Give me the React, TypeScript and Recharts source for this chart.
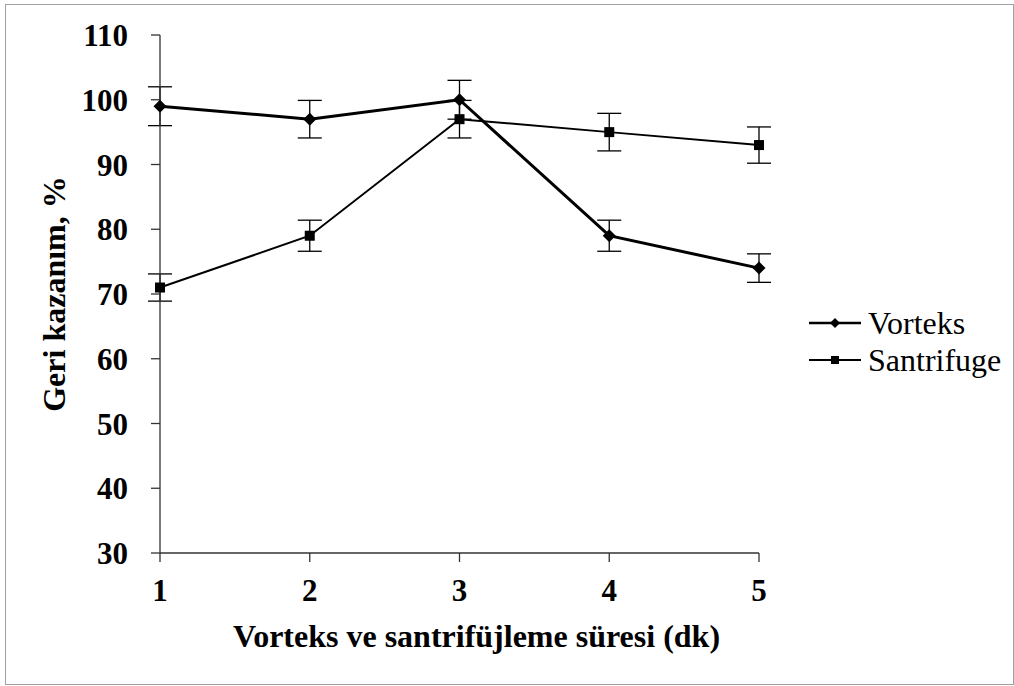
import { LineChart, Line, XAxis, YAxis, ErrorBar } from 'recharts';

const minutes = [1, 2, 3, 4, 5];
const vorteks = [99, 97, 100, 79, 74];
const vorteksErr = [3, 2.9, 3, 2.4, 2.2];
const santrifuge = [71, 79, 97, 95, 93];
const santrifugeErr = [2.1, 2.4, 2.9, 2.9, 2.8];
const yTicks = [30, 40, 50, 60, 70, 80, 90, 100, 110];

const data = minutes.map((m, i) => ({
  m,
  vorteks: vorteks[i],
  vorteksErr: vorteksErr[i],
  santrifuge: santrifuge[i],
  santrifugeErr: santrifugeErr[i],
}));

const FONT = '"Liberation Serif", "Times New Roman", serif';

const Diamond = (props: any) => {
  const { cx, cy } = props;
  if (cx == null || cy == null) return null;
  const r = 6.5;
  return <path d={`M${cx},${cy - r}L${cx + r},${cy}L${cx},${cy + r}L${cx - r},${cy}Z`} fill="#000" />;
};

const Square = (props: any) => {
  const { cx, cy } = props;
  if (cx == null || cy == null) return null;
  const r = 5;
  return <rect x={cx - r} y={cy - r} width={r * 2} height={r * 2} fill="#000" />;
};

const LegendBox = () => (
  <div
    style={{
      position: 'absolute',
      left: 801,
      top: 299,
      fontFamily: FONT,
      fontSize: 32,
      color: '#000',
      lineHeight: 1,
    }}
  >
    <div style={{ display: 'flex', alignItems: 'center', height: 37 }}>
      <svg width={56} height={20}>
        <line x1={2} y1={10} x2={54} y2={10} stroke="#000" strokeWidth={2.5} />
        <path d="M28,5L33,10L28,15L23,10Z" fill="#000" />
      </svg>
      <span style={{ marginLeft: 5 }}>Vorteks</span>
    </div>
    <div style={{ display: 'flex', alignItems: 'center', height: 37 }}>
      <svg width={56} height={20}>
        <line x1={2} y1={10} x2={54} y2={10} stroke="#000" strokeWidth={2} />
        <rect x={24} y={6} width={8} height={8} fill="#000" />
      </svg>
      <span style={{ marginLeft: 5 }}>Santrifuge</span>
    </div>
  </div>
);

export default function App() {
  return (
    <div
      style={{
        position: 'absolute',
        left: 5,
        top: 4,
        width: 1009,
        height: 681,
        border: '1px solid #a0a0a0',
        boxSizing: 'border-box',
        background: '#fff',
      }}
    >
      <LineChart
        width={1007}
        height={679}
        data={data}
        margin={{ top: 30, right: 254, left: 0, bottom: 0 }}
        style={{ fontFamily: FONT }}
      >
        <XAxis
          dataKey="m"
          type="number"
          domain={[1, 5]}
          ticks={minutes}
          height={131}
          stroke="#333"
          strokeWidth={1.3}
          tickSize={9}
          tickMargin={17}
          tick={{ fill: '#000', fontSize: 31, fontWeight: 'bold', fontFamily: FONT }}
          label={{
            value: 'Vorteks ve santrifüjleme süresi (dk)',
            position: 'insideBottom',
            offset: 37,
            dx: 17,
            fill: '#000',
            fontSize: 32,
            fontWeight: 'bold',
            fontFamily: FONT,
          }}
        />
        <YAxis
          type="number"
          domain={[30, 110]}
          ticks={yTicks}
          width={154}
          stroke="#333"
          strokeWidth={1.3}
          tickSize={9}
          tickMargin={23}
          tick={{ fill: '#000', fontSize: 31, fontWeight: 'bold', fontFamily: FONT }}
          label={{
            content: (p: any) => {
              const vb = p.viewBox;
              const x = vb.x + 48;
              const y = vb.y + vb.height / 2;
              return (
                <text
                  x={x}
                  y={y}
                  transform={`rotate(-90, ${x}, ${y})`}
                  textAnchor="middle"
                  dominantBaseline="central"
                  fill="#000"
                  fontSize={32}
                  fontWeight="bold"
                  fontFamily={FONT}
                >
                  Geri kazanım, %
                </text>
              );
            },
          }}
        />
        <Line
          dataKey="vorteks"
          name="Vorteks"
          stroke="#000"
          strokeWidth={3}
          dot={<Diamond />}
          activeDot={false}
          isAnimationActive={false}
        >
          <ErrorBar dataKey="vorteksErr" direction="y" width={12} stroke="#000" strokeWidth={1.3} />
        </Line>
        <Line
          dataKey="santrifuge"
          name="Santrifuge"
          stroke="#000"
          strokeWidth={2}
          dot={<Square />}
          activeDot={false}
          isAnimationActive={false}
        >
          <ErrorBar dataKey="santrifugeErr" direction="y" width={12} stroke="#000" strokeWidth={1.3} />
        </Line>
      </LineChart>
      <LegendBox />
    </div>
  );
}
